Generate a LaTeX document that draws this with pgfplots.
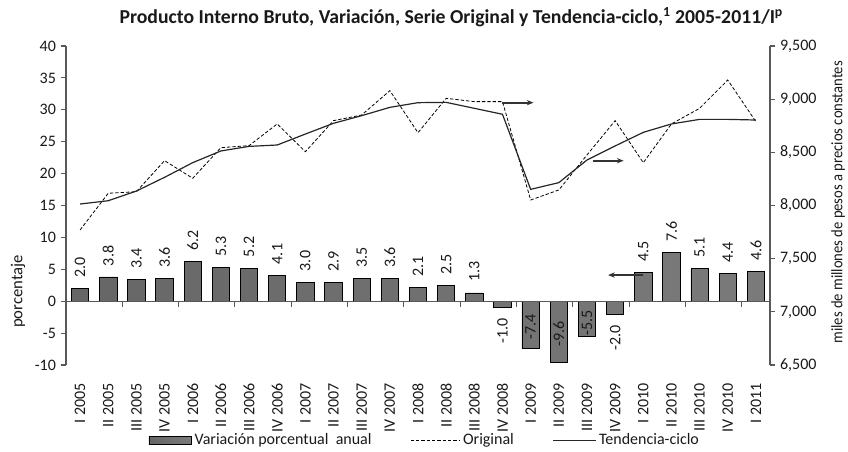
\documentclass[border=0pt]{standalone}
\usepackage{pgfplots}
\pgfplotsset{compat=1.18}
\usepackage{pgfplotstable}
\usepackage{fontspec}
\setmainfont{Carlito}
\usetikzlibrary{arrows.meta}

\pgfplotstableread{
x val ly lab
0 2.0 5.3 2.0
1 3.8 7.1 3.8
2 3.4 6.7 3.4
3 3.6 6.9 3.6
4 6.2 9.5 6.2
5 5.3 8.6 5.3
6 5.2 8.5 5.2
7 4.1 7.4 4.1
8 3.0 6.3 3.0
9 2.9 6.2 2.9
10 3.5 6.8 3.5
11 3.6 6.9 3.6
12 2.1 5.4 2.1
13 2.5 5.8 2.5
14 1.3 4.6 1.3
15 -1.0 -4.6 -1.0
16 -7.4 -4.0 -7.4
17 -9.6 -5.1 -9.6
18 -5.5 -3.4 -5.5
19 -2.0 -5.8 -2.0
20 4.5 7.8 4.5
21 7.6 10.9 7.6
22 5.1 8.4 5.1
23 4.4 7.7 4.4
24 4.6 7.9 4.6
}\bars

\pgfplotstableread{
x orig trend
0 7770 8014
1 8115 8045
2 8130 8136
3 8422 8265
4 8256 8403
5 8544 8513
6 8563 8556
7 8767 8569
8 8506 8672
9 8798 8773
10 8851 8845
11 9080 8923
12 8685 8967
13 9008 8970
14 8977 8914
15 8977 8858
16 8052 8152
17 8146 8215
18 8475 8428
19 8798 8560
20 8403 8688
21 8767 8767
22 8914 8810
23 9180 8810
24 8788 8804
}\lines

\definecolor{axgray}{gray}{0.35}
\definecolor{txt}{gray}{0.1}

\begin{document}
\begin{tikzpicture}
\useasboundingbox (0,0) rectangle (636pt,338.25pt);

\node[font=\bfseries\fontsize{14.8}{17}\selectfont, text=txt] at (338.5pt,325.5pt)
  {Producto Interno Bruto, Variación, Serie Original y Tendencia-ciclo,\textsuperscript{1} 2005-2011/I\textsuperscript{p}};

\begin{axis}[
  at={(49.5pt,64.5pt)}, anchor=south west,
  scale only axis, width=528pt, height=239.25pt,
  xmin=-0.5, xmax=24.5, ymin=-10, ymax=40,
  axis y line*=left, axis x line*=bottom,
  x axis line style={draw=none},
  y axis line style={draw=axgray, line width=0.8pt},
  ytick={-10,-5,...,40},
  tick align=outside,
  major tick length=4pt,
  every tick/.style={draw=axgray, line width=0.8pt},
  xtick={0,...,24},
  major x tick style={draw=none},
  xticklabels={I 2005, II 2005, III 2005, IV 2005, I 2006, II 2006, III 2006, IV 2006, I 2007, II 2007, III 2007, IV 2007, I 2008, II 2008, III 2008, IV 2008, I 2009, II 2009, III 2009, IV 2009, I 2010, II 2010, III 2010, IV 2010, I 2011},
  xticklabel style={rotate=90, anchor=east, xshift=-6pt},
  /pgf/number format/assume math mode=true,
  ticklabel style={font=\fontsize{12}{14}\selectfont, text=txt},
  ylabel={porcentaje},
  ylabel style={at={(axis description cs:-0.068,0.23)}, anchor=center, rotate=0, font=\fontsize{12.5}{14}\selectfont, text=txt},
  legend columns=3,
  legend style={draw=none, fill=none, at={(0.51,-0.236)}, anchor=center,
    font=\fontsize{12}{14}\selectfont, text=txt,
    /tikz/every odd column/.append style={column sep=0pt},
    /tikz/every even column/.append style={column sep=27pt}},
  legend cell align=left,
]
\addplot[ybar, bar width=13pt, draw=black, line width=0.6pt,
  left color=black!60, middle color=black!22, right color=black!52,
  legend image code/.code={\draw[left color=black!60, middle color=black!22, right color=black!52, draw=black] (0pt,-3pt) rectangle (32pt,3pt);}]
  table[x=x, y=val]{\bars};
\addlegendentry{Variación porcentual\ \ anual}
\addplot[only marks, mark=none, forget plot, nodes near coords, point meta=explicit symbolic,
  every node near coord/.append style={rotate=90, anchor=center, inner sep=0pt, font=\fontsize{12}{14}\selectfont, text=txt}]
  table[x=x, y=ly, meta=lab]{\bars};
\addlegendimage{legend image code/.code={\draw[black, dash pattern=on 2.5pt off 1.5pt, line width=0.6pt] (0pt,0pt) -- (37pt,0pt);}}
\addlegendentry{Original}
\addlegendimage{legend image code/.code={\draw[black!85, line width=0.9pt] (0pt,0pt) -- (32pt,0pt);}}
\addlegendentry{Tendencia-ciclo}

\draw[axgray, line width=0.8pt] (axis cs:-0.5,0) -- (axis cs:24.5,0);
\pgfplotsinvokeforeach{1.5,3.5,5.5,7.5,9.5,11.5,13.5,15.5,17.5,19.5,21.5,23.5}{
  \draw[axgray, line width=0.8pt] (axis cs:#1,0) -- ++(0pt,-4pt);
}
\draw[-{Stealth[length=5pt,width=4pt]}, line width=1.3pt, black!80] (axis cs:20.0,4.1) -- (axis cs:18.75,4.1);
\end{axis}

\begin{axis}[
  at={(49.5pt,64.5pt)}, anchor=south west,
  scale only axis, width=528pt, height=239.25pt,
  xmin=-0.5, xmax=24.5, ymin=6500, ymax=9500,
  axis y line*=right, axis x line=none,
  y axis line style={draw=axgray, line width=0.8pt},
  ytick={6500,7000,...,9500},
  tick align=outside,
  major tick length=4pt,
  every tick/.style={draw=axgray, line width=0.8pt},
  /pgf/number format/assume math mode=true,
  /pgf/number format/1000 sep={,},
  scaled y ticks=false,
  ticklabel style={font=\fontsize{12}{14}\selectfont, text=txt},
  ylabel={\resizebox{212pt}{\height}{miles de millones de pesos a precios constantes}},
  ylabel style={at={(axis description cs:1.0966,0.51)}, anchor=center, font=\fontsize{12}{14}\selectfont, text=txt},
]
\addplot[black, dash pattern=on 2.5pt off 1.5pt, line width=0.6pt, mark=none] table[x=x, y=orig]{\lines};
\addplot[black!85, line width=0.9pt, mark=none] table[x=x, y=trend]{\lines};
\draw[-{Stealth[length=5pt,width=4pt]}, line width=1.3pt, black!80] (axis cs:15.0,8967) -- (axis cs:16.1,8967);
\draw[-{Stealth[length=5pt,width=4pt]}, line width=1.3pt, black!80] (axis cs:18.2,8421) -- (axis cs:19.3,8421);
\end{axis}
\end{tikzpicture}
\end{document}
